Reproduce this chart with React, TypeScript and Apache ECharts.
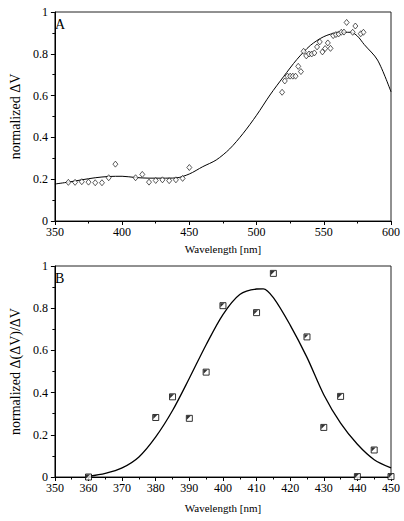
import React, { useEffect, useRef } from "react";
import * as echarts from "echarts";

// Panel A: measured points (wavelength, normalized ΔV)
const aPointX = [360, 365, 370, 375, 380, 385, 390, 395, 410, 415, 420, 425, 430, 435, 440, 445, 450,
  519, 521, 523, 525, 527, 529, 531, 533, 535, 537, 539, 541, 543, 545, 547, 549, 551, 553, 555, 557, 559, 561, 563, 565, 567, 571.5, 573.5, 577.5, 579.5];
const aPointY = [0.185, 0.185, 0.188, 0.186, 0.183, 0.183, 0.207, 0.272, 0.207, 0.223, 0.186, 0.194, 0.197, 0.193, 0.197, 0.204, 0.256,
  0.616, 0.67, 0.693, 0.693, 0.693, 0.693, 0.74, 0.715, 0.812, 0.79, 0.799, 0.799, 0.804, 0.833, 0.857, 0.809, 0.825, 0.852, 0.826, 0.887, 0.892, 0.895, 0.903, 0.904, 0.95, 0.903, 0.933, 0.896, 0.903];
// Panel A: fitted curve
const aCurveX = [350, 360, 370, 380, 390, 400, 410, 420, 430, 440, 450, 460, 470, 480, 490, 500, 510, 520, 530, 540, 550, 560, 570, 575, 580, 590, 600];
const aCurveY = [0.177, 0.186, 0.197, 0.207, 0.213, 0.214, 0.208, 0.205, 0.205, 0.206, 0.225, 0.26, 0.292, 0.345, 0.419, 0.506, 0.603, 0.69, 0.773, 0.84, 0.882, 0.901, 0.903, 0.885, 0.845, 0.77, 0.618];

// Panel B: measured points (wavelength, normalized Δ(ΔV)/ΔV)
const bPointX = [360, 380, 385, 390, 395, 400, 410, 415, 425, 430, 435, 440, 445, 450];
const bPointY = [0, 0.282, 0.38, 0.278, 0.497, 0.812, 0.779, 0.965, 0.664, 0.235, 0.382, 0.002, 0.128, 0.002];
// Panel B: fitted curve
const bCurveX = [360, 365, 370, 375, 380, 385, 390, 395, 400, 405, 410, 412, 415, 420, 425, 430, 435, 440, 445, 450];
const bCurveY = [0.003, 0.017, 0.043, 0.095, 0.19, 0.315, 0.468, 0.627, 0.77, 0.865, 0.891, 0.892, 0.85, 0.72, 0.567, 0.39, 0.255, 0.155, 0.082, 0.043];

const yTicks = [0, 0.2, 0.4, 0.6, 0.8, 1];

const zip = (xs: number[], ys: number[]) => xs.map((x, i) => [x, ys[i]]);

const FONT = "'Liberation Serif', 'Times New Roman', Times, serif";

export default function App() {
  const ref = useRef<HTMLDivElement>(null);
  useEffect(() => {
    if (!ref.current) return;
    const chart = echarts.init(ref.current, null, { renderer: "svg" });
    const axisCommon = {
      axisLine: { lineStyle: { color: "#000", width: 1 } },
      axisTick: { show: true, inside: false, length: 4, lineStyle: { color: "#000" } },
      minorTick: { show: true, splitNumber: 2, length: 2.5, lineStyle: { color: "#000" } },
      splitLine: { show: false },
      axisLabel: { color: "#000", fontFamily: FONT, fontSize: 12 },
      nameTextStyle: { color: "#000", fontFamily: FONT },
    };
    const yLabelFmt = (v: number) => (yTicks.includes(Math.round(v * 10) / 10) ? String(Math.round(v * 10) / 10) : "");
    chart.setOption({
      animation: false,
      backgroundColor: "#fff",
      textStyle: { fontFamily: FONT },
      grid: [
        { left: 49, top: 12, width: 342, height: 209, show: true, borderColor: "#222", borderWidth: 1 },
        { left: 49, top: 266, width: 342, height: 211, show: true, borderColor: "#222", borderWidth: 1 },
      ],
      xAxis: [
        {
          ...axisCommon, gridIndex: 0, type: "value", min: 350, max: 600, interval: 50,
          axisLabel: { ...axisCommon.axisLabel, margin: 5 },
          name: "Wavelength [nm]", nameLocation: "middle", nameGap: 22,
          nameTextStyle: { ...axisCommon.nameTextStyle, fontSize: 11, verticalAlign: "top" },
        },
        {
          ...axisCommon, gridIndex: 1, type: "value", min: 350, max: 450, interval: 10,
          axisLabel: { ...axisCommon.axisLabel, margin: 5 },
          name: "Wavelength [nm]", nameLocation: "middle", nameGap: 25,
          nameTextStyle: { ...axisCommon.nameTextStyle, fontSize: 11, verticalAlign: "top" },
        },
      ],
      yAxis: [
        {
          ...axisCommon, gridIndex: 0, type: "value", min: 0, max: 1, interval: 0.2,
          axisLabel: { ...axisCommon.axisLabel, margin: 7, formatter: yLabelFmt },
          name: "normalized ΔV", nameLocation: "middle", nameGap: 30,
          nameTextStyle: { ...axisCommon.nameTextStyle, fontSize: 14 },
        },
        {
          ...axisCommon, gridIndex: 1, type: "value", min: 0, max: 1, interval: 0.2,
          axisLabel: { ...axisCommon.axisLabel, margin: 7, formatter: yLabelFmt },
          name: "normalized Δ(ΔV)/ΔV", nameLocation: "middle", nameGap: 30,
          nameTextStyle: { ...axisCommon.nameTextStyle, fontSize: 14 },
        },
      ],
      graphic: [
        { type: "text", left: 55, top: 17, style: { text: "A", font: `14px ${FONT}`, fill: "#000" } },
        { type: "text", left: 55, top: 271, style: { text: "B", font: `14px ${FONT}`, fill: "#000" } },
      ],
      series: [
        {
          type: "line", xAxisIndex: 0, yAxisIndex: 0, data: zip(aCurveX, aCurveY),
          smooth: 0.3, showSymbol: false, lineStyle: { color: "#000", width: 1 }, z: 2,
        },
        {
          type: "scatter", xAxisIndex: 0, yAxisIndex: 0, data: zip(aPointX, aPointY),
          symbol: "diamond", symbolSize: [5, 6],
          itemStyle: { color: "#fff", borderColor: "#000", borderWidth: 0.8 }, z: 3,
        },
        {
          type: "line", xAxisIndex: 1, yAxisIndex: 1, data: zip(bCurveX, bCurveY),
          smooth: 0.3, showSymbol: false, lineStyle: { color: "#000", width: 1.3 }, z: 2,
        },
        {
          type: "scatter", xAxisIndex: 1, yAxisIndex: 1, data: zip(bPointX, bPointY),
          symbol: "rect", symbolSize: 6,
          itemStyle: { color: "#fff", borderColor: "#000", borderWidth: 1 }, z: 3,
        },
        {
          type: "scatter", xAxisIndex: 1, yAxisIndex: 1, data: zip(bPointX, bPointY),
          symbol: "path://M0,0L10,0L0,10Z", symbolSize: 4, symbolOffset: [-0.5, -0.5],
          itemStyle: { color: "#000" }, z: 4,
        },
      ],
    });
    return () => chart.dispose();
  }, []);
  return <div ref={ref} style={{ position: "fixed", left: 0, top: 0, width: 404, height: 521, background: "#fff" }} />;
}
